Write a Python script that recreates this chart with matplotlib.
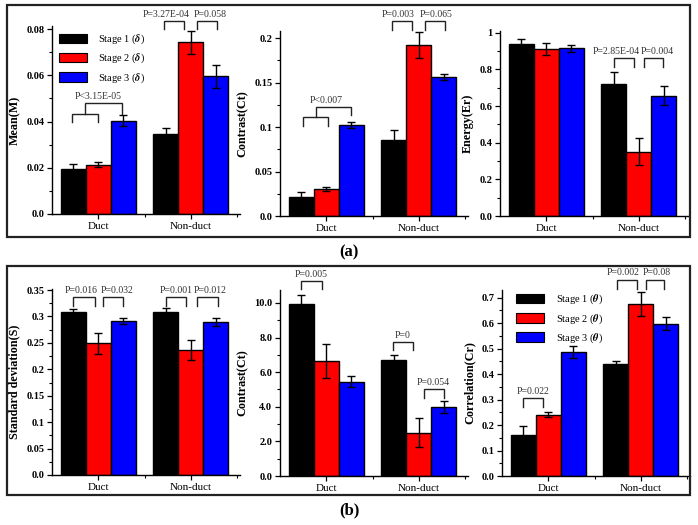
import matplotlib
matplotlib.use("Agg")
import matplotlib.pyplot as plt
from matplotlib.patches import Rectangle, Patch
from matplotlib.ticker import AutoMinorLocator, FixedLocator
import numpy as np

plt.rcParams['font.family'] = ['Liberation Serif', 'DejaVu Serif']
plt.rcParams['mathtext.fontset'] = 'stix'

groups = ['Duct', 'Non-duct']
stage_colors = ['#000000', '#ff0000', '#0000ff']

# (a) Mean(M)
mean_s1 = [0.0195, 0.0345]; mean_s1_err = [0.0020, 0.0026]
mean_s2 = [0.0214, 0.0742]; mean_s2_err = [0.0009, 0.0050]
mean_s3 = [0.0404, 0.0595]; mean_s3_err = [0.0025, 0.0048]
# (a) Contrast(Ct)
cta_s1 = [0.0217, 0.0860]; cta_s1_err = [0.0050, 0.0104]
cta_s2 = [0.0303, 0.1925]; cta_s2_err = [0.0022, 0.0143]
cta_s3 = [0.1020, 0.1563]; cta_s3_err = [0.0034, 0.0030]
# (a) Energy(Er)
en_s1 = [0.940, 0.719]; en_s1_err = [0.027, 0.069]
en_s2 = [0.912, 0.352]; en_s2_err = [0.033, 0.073]
en_s3 = [0.916, 0.657]; en_s3_err = [0.018, 0.050]
# (b) Standard deviation(S)
sd_s1 = [0.3077, 0.3090]; sd_s1_err = [0.0063, 0.0076]
sd_s2 = [0.2490, 0.2365]; sd_s2_err = [0.0200, 0.0183]
sd_s3 = [0.2913, 0.2900]; sd_s3_err = [0.0064, 0.0077]
# (b) Contrast(Ct)
ctb_s1 = [9.94, 6.69]; ctb_s1_err = [0.54, 0.31]
ctb_s2 = [6.65, 2.51]; ctb_s2_err = [0.97, 0.82]
ctb_s3 = [5.45, 4.00]; ctb_s3_err = [0.31, 0.35]
# (b) Correlation(Cr)
cr_s1 = [0.160, 0.439]; cr_s1_err = [0.0366, 0.0106]
cr_s2 = [0.241, 0.6738]; cr_s2_err = [0.0094, 0.047]
cr_s3 = [0.4863, 0.5977]; cr_s3_err = [0.0247, 0.025]

ticks_mean = [0.0, 0.02, 0.04, 0.06, 0.08]
labels_mean = ['0.0', '0.02', '0.04', '0.06', '0.08']
ticks_cta = [0.0, 0.05, 0.1, 0.15, 0.2]
labels_cta = ['0.0', '0.05', '0.1', '0.15', '0.2']
ticks_en = [0.0, 0.2, 0.4, 0.6, 0.8, 1.0]
labels_en = ['0.0', '0.2', '0.4', '0.6', '0.8', '1']
ticks_sd = [0.0, 0.05, 0.1, 0.15, 0.2, 0.25, 0.3, 0.35]
labels_sd = ['0.0', '0.05', '0.1', '0.15', '0.2', '0.25', '0.3', '0.35']
ticks_ctb = [0.0, 2.0, 4.0, 6.0, 8.0, 10.0]
labels_ctb = ['0.0', '2.0', '4.0', '6.0', '8.0', '10.0']
ticks_cr = [0.0, 0.1, 0.2, 0.3, 0.4, 0.5, 0.6, 0.7]
labels_cr = ['0.0', '0.1', '0.2', '0.3', '0.4', '0.5', '0.6', '0.7']

W, H = 698, 525
fig = plt.figure(figsize=(W / 100, H / 100), dpi=100)


def axes_px(left, right, top, bottom):
    return fig.add_axes([left / W, 1 - bottom / H, (right - left) / W, (bottom - top) / H])


BW = 0.27


def draw_panel(ax, series, errs, ylim, ticks, tlabels, ylabel):
    x = np.arange(len(groups))
    for i, (vals, e) in enumerate(zip(series, errs)):
        ax.bar(x + (i - 1) * BW, vals, BW, color=stage_colors[i], edgecolor='black',
               linewidth=1.0, zorder=2)
        ax.errorbar(x + (i - 1) * BW, vals, yerr=e, fmt='none', ecolor='black',
                    elinewidth=1.0, capsize=3, capthick=1.0, zorder=3)
    ax.set_xlim(-0.5, 1.53)
    ax.set_ylim(*ylim)
    ax.set_xticks(x)
    ax.set_xticklabels(groups, fontsize=8)
    ax.xaxis.set_minor_locator(FixedLocator([0.5, 1.5]))
    ax.set_yticks(ticks)
    ax.set_yticklabels(tlabels, fontsize=7.5, fontweight='bold')
    ax.yaxis.set_minor_locator(AutoMinorLocator(2))
    ax.set_ylabel(ylabel, fontsize=8.7, fontweight='bold', labelpad=4)
    for s in ['top', 'right']:
        ax.spines[s].set_visible(False)
    for s in ['left', 'bottom']:
        ax.spines[s].set_linewidth(1.0)
    ax.tick_params(axis='both', which='major', direction='out', length=3.5, width=0.9, pad=2)
    ax.tick_params(axis='both', which='minor', direction='out', length=2, width=0.8)
    ax.set_facecolor('none')


def bracket(ax, x1, x2, ytop, yl1, yl2, text=None, tx=None):
    ax.plot([x1, x1, x2, x2], [yl1, ytop, ytop, yl2], color='#222222', lw=1.0,
            clip_on=False, zorder=4, solid_joinstyle='miter')
    if text is not None:
        ax.annotate(text, (tx if tx is not None else (x1 + x2) / 2, ytop),
                    xytext=(0, 1.5), textcoords='offset points', ha='center', va='bottom',
                    fontsize=7, color='#333333', annotation_clip=False)


# ----- panel (a) -----
ax1 = axes_px(52, 240, 26, 214)
draw_panel(ax1, [mean_s1, mean_s2, mean_s3], [mean_s1_err, mean_s2_err, mean_s3_err],
           (0, 0.0813), ticks_mean, labels_mean, 'Mean(M)')
bracket(ax1, -0.28, 0.0, 0.0433, 0.040, 0.040)
bracket(ax1, -0.14, 0.26, 0.0479, 0.0433, 0.0433, 'P<3.15E-05', 0.0)
bracket(ax1, 0.71, 0.93, 0.0835, 0.080, 0.080, 'P=3.27E-04', 0.73)
bracket(ax1, 1.07, 1.28, 0.0835, 0.080, 0.080, 'P=0.058', 1.21)

ax2 = axes_px(280, 468, 31, 216)
draw_panel(ax2, [cta_s1, cta_s2, cta_s3], [cta_s1_err, cta_s2_err, cta_s3_err],
           (0, 0.208), ticks_cta, labels_cta, 'Contrast(Ct)')
bracket(ax2, -0.25, 0.02, 0.111, 0.101, 0.101)
bracket(ax2, -0.11, 0.27, 0.1225, 0.111, 0.1135, 'P<0.007', 0.0)
bracket(ax2, 0.71, 0.925, 0.219, 0.209, 0.209, 'P=0.003', 0.775)
bracket(ax2, 1.064, 1.278, 0.219, 0.209, 0.209, 'P=0.065', 1.19)

ax3 = axes_px(500, 688, 31, 216)
draw_panel(ax3, [en_s1, en_s2, en_s3], [en_s1_err, en_s2_err, en_s3_err],
           (0, 1.01), ticks_en, labels_en, 'Energy(Er)')
bracket(ax3, 0.727, 0.952, 0.863, 0.815, 0.815, 'P=2.85E-04', 0.75)
bracket(ax3, 1.059, 1.262, 0.863, 0.815, 0.815, 'P=0.004', 1.2)

leg_a = [Patch(facecolor=stage_colors[i], edgecolor='black', linewidth=0.8,
               label='Stage %d ($\\boldsymbol{\\delta}$)' % (i + 1)) for i in range(3)]
ax1.legend(handles=leg_a, loc='upper left', bbox_to_anchor=(0.03, 0.97), frameon=False,
           fontsize=7.5, handlelength=2.7, handleheight=1.05, handletextpad=1.1,
           labelspacing=0.55, borderpad=0.1, borderaxespad=0)

# ----- panel (b) -----
ax4 = axes_px(52, 240, 289, 475)
draw_panel(ax4, [sd_s1, sd_s2, sd_s3], [sd_s1_err, sd_s2_err, sd_s3_err],
           (0, 0.352), ticks_sd, labels_sd, 'Standard deviation(S)')
bracket(ax4, -0.277, -0.038, 0.3368, 0.32, 0.32, 'P=0.016', -0.19)
bracket(ax4, 0.049, 0.266, 0.3368, 0.32, 0.32, 'P=0.032', 0.2)
bracket(ax4, 0.734, 0.951, 0.3368, 0.32, 0.32, 'P=0.001', 0.84)
bracket(ax4, 1.07, 1.288, 0.3368, 0.32, 0.32, 'P=0.012', 1.21)

ax5 = axes_px(280, 468, 290, 476)
draw_panel(ax5, [ctb_s1, ctb_s2, ctb_s3], [ctb_s1_err, ctb_s2_err, ctb_s3_err],
           (0, 10.75), ticks_ctb, labels_ctb, 'Contrast(Ct)')
bracket(ax5, -0.27, -0.05, 11.27, 10.8, 10.8, 'P=0.005', -0.16)
bracket(ax5, 0.72, 0.935, 7.75, 7.28, 7.28, 'P=0', 0.82)
bracket(ax5, 1.054, 1.27, 5.03, 4.5, 4.5, 'P=0.054', 1.15)

ax6 = axes_px(502, 690, 290, 476)
draw_panel(ax6, [cr_s1, cr_s2, cr_s3], [cr_s1_err, cr_s2_err, cr_s3_err],
           (0, 0.73), ticks_cr, labels_cr, 'Correlation(Cr)')
bracket(ax6, -0.274, -0.06, 0.3067, 0.271, 0.271, 'P=0.022', -0.167)
bracket(ax6, 0.747, 0.962, 0.771, 0.735, 0.735, 'P=0.002', 0.81)
bracket(ax6, 1.05, 1.25, 0.771, 0.735, 0.735, 'P=0.08', 1.167)

leg_b = [Patch(facecolor=stage_colors[i], edgecolor='black', linewidth=0.8,
               label='Stage %d ($\\boldsymbol{\\theta}$)' % (i + 1)) for i in range(3)]
ax6.legend(handles=leg_b, loc='upper left', bbox_to_anchor=(0.07, 0.99), frameon=False,
           fontsize=7.5, handlelength=2.7, handleheight=1.05, handletextpad=1.1,
           labelspacing=0.55, borderpad=0.1, borderaxespad=0)

# frames and panel labels
for (l, t, r, b) in [(7, 5, 690, 237), (7, 266, 690, 495)]:
    fig.add_artist(Rectangle((l / W, 1 - b / H), (r - l) / W, (b - t) / H,
                             transform=fig.transFigure, fill=False,
                             edgecolor='#222222', linewidth=1.6))
fig.text(349 / W, 1 - 252 / H, '(a)', ha='center', va='center', fontsize=12, fontweight='bold')
fig.text(349 / W, 1 - 510 / H, '(b)', ha='center', va='center', fontsize=12, fontweight='bold')

fig.savefig('out.png', dpi=100)
